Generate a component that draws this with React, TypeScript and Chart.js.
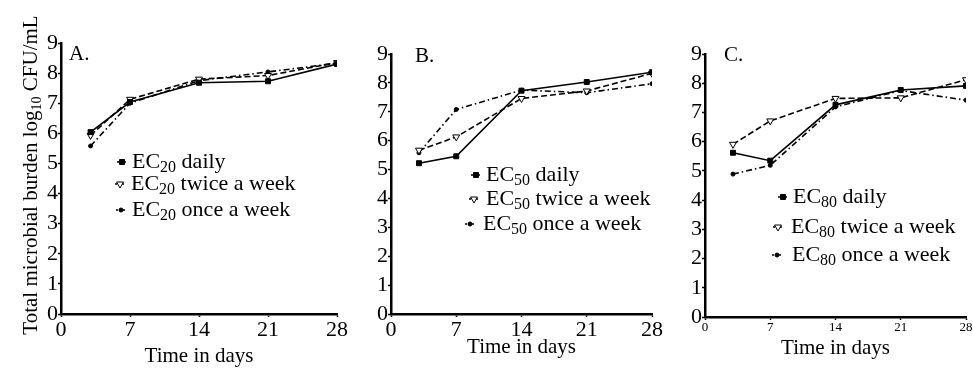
import React, { useEffect, useRef } from 'react';
import { Chart, registerables } from 'chart.js';
Chart.register(...registerables);

// ---------- data ----------
const DAYS = [3, 7, 14, 21, 28];
const X_TICKS = [0, 7, 14, 21, 28];
const Y_TICKS = [0, 1, 2, 3, 4, 5, 6, 7, 8, 9];

const A_DAILY = [6.04, 7.04, 7.68, 7.73, 8.3];
const A_TWICE = [5.93, 7.13, 7.8, 7.92, 8.35];
const A_ONCE = [5.58, 7.0, 7.75, 8.04, 8.33];

const B_DAILY = [5.22, 5.46, 7.73, 8.03, 8.37];
const B_TWICE = [5.67, 6.13, 7.46, 7.72, 8.33];
const B_ONCE = [5.58, 7.08, 7.75, 7.66, 7.97];

const C_DAILY = [5.62, 5.35, 7.26, 7.77, 7.91];
const C_TWICE = [5.91, 6.71, 7.48, 7.5, 8.12];
const C_ONCE = [4.89, 5.19, 7.19, 7.75, 7.42];

const PANEL_LABELS = ['A.', 'B.', 'C.'];
const EC_LEVELS = ['20', '50', '80'];
const REGIMENS = ['daily', 'twice a week', 'once a week'];
const X_TITLE = 'Time in days';
const Y_TITLE_PARTS = ['Total microbial burden log', '10', ' CFU/mL'];

const SERIES = [
  [A_DAILY, A_TWICE, A_ONCE],
  [B_DAILY, B_TWICE, B_ONCE],
  [C_DAILY, C_TWICE, C_ONCE],
];

// ---------- styles / layout ----------
const FONT = '"Liberation Serif", "Times New Roman", serif';
const H = 369;

const STYLES = [
  { dash: [] as number[], shape: 'rect', radius: 3.5, rotation: 0, fill: '#000' },
  { dash: [6, 3], shape: 'triangle', radius: 4, rotation: 180, fill: '#fff' },
  { dash: [6, 3, 1.5, 3], shape: 'circle', radius: 2, rotation: 0, fill: '#000' },
];

const PANELS = [
  {
    canvasLeft: 0, canvasWidth: 352, left: 61, right: 337, top: 43, bottom: 314,
    xTickSize: 22, xTitlePad: 0, label: { x: 69, y: 54 }, yTitle: true,
    legend: [
      { mx: 122, tx: 132, y: 162 },
      { mx: 120, tx: 131, y: 184 },
      { mx: 121, tx: 132, y: 210 },
    ],
  },
  {
    canvasLeft: 340, canvasWidth: 326, left: 391, right: 652, top: 54, bottom: 314,
    xTickSize: 22, xTitlePad: 9, label: { x: 415, y: 56 }, yTitle: false,
    legend: [
      { mx: 476, tx: 486, y: 175 },
      { mx: 474, tx: 486, y: 199 },
      { mx: 470, tx: 483, y: 224 },
    ],
  },
  {
    canvasLeft: 660, canvasWidth: 313, left: 705, right: 966, top: 54, bottom: 317,
    xTickSize: 13, xTitlePad: 8, label: { x: 724, y: 55 }, yTitle: false,
    legend: [
      { mx: 783, tx: 793, y: 197 },
      { mx: 778, tx: 791, y: 227 },
      { mx: 777, tx: 792, y: 255 },
    ],
  },
];

function drawMarker(ctx: CanvasRenderingContext2D, st: any, x: number, y: number) {
  ctx.save();
  ctx.setLineDash([]);
  ctx.lineWidth = 1;
  ctx.strokeStyle = '#000';
  ctx.fillStyle = st.fill;
  ctx.beginPath();
  if (st.shape === 'rect') {
    const s = st.radius * Math.SQRT1_2;
    ctx.rect(x - s, y - s, 2 * s, 2 * s);
  } else if (st.shape === 'triangle') {
    const r = st.radius;
    let a = (st.rotation * Math.PI) / 180;
    ctx.moveTo(x + Math.sin(a) * r, y - Math.cos(a) * r);
    a += (2 * Math.PI) / 3;
    ctx.lineTo(x + Math.sin(a) * r, y - Math.cos(a) * r);
    a += (2 * Math.PI) / 3;
    ctx.lineTo(x + Math.sin(a) * r, y - Math.cos(a) * r);
    ctx.closePath();
  } else {
    ctx.arc(x, y, st.radius, 0, Math.PI * 2);
  }
  ctx.fill();
  ctx.stroke();
  ctx.restore();
}

function makeOverlay(pi: number) {
  const p = PANELS[pi];
  return {
    id: 'overlay' + pi,
    afterDraw(chart: any) {
      const ctx: CanvasRenderingContext2D = chart.ctx;
      const ox = p.canvasLeft;
      ctx.save();
      ctx.fillStyle = '#000';
      ctx.textBaseline = 'middle';
      ctx.textAlign = 'left';
      // panel label
      ctx.font = `21px ${FONT}`;
      ctx.fillText(PANEL_LABELS[pi], p.label.x - ox, p.label.y);
      // legend
      p.legend.forEach((row, i) => {
        const st = STYLES[i];
        ctx.save();
        ctx.strokeStyle = '#000';
        ctx.lineWidth = 1.5;
        ctx.setLineDash(st.dash.length ? [2, 1.5] : []);
        ctx.beginPath();
        ctx.moveTo(row.mx - ox - 5, row.y);
        ctx.lineTo(row.mx - ox + 4, row.y);
        ctx.stroke();
        ctx.restore();
        drawMarker(ctx, st, row.mx - ox, row.y);
        let x = row.tx - ox;
        ctx.font = `22px ${FONT}`;
        ctx.fillText('EC', x, row.y);
        x += ctx.measureText('EC').width;
        ctx.font = `16px ${FONT}`;
        ctx.fillText(EC_LEVELS[pi], x, row.y + 6);
        x += ctx.measureText(EC_LEVELS[pi]).width;
        ctx.font = `22px ${FONT}`;
        ctx.fillText(' ' + REGIMENS[i], x, row.y);
      });
      // y title
      if (p.yTitle) {
        ctx.font = `21px ${FONT}`;
        const w0 = ctx.measureText(Y_TITLE_PARTS[0]).width;
        const w2 = ctx.measureText(Y_TITLE_PARTS[2]).width;
        ctx.font = `14px ${FONT}`;
        const w1 = ctx.measureText(Y_TITLE_PARTS[1]).width;
        const total = w0 + w1 + w2;
        const cy = 175;
        ctx.translate(37, cy + total / 2);
        ctx.rotate(-Math.PI / 2);
        ctx.textBaseline = 'alphabetic';
        ctx.font = `21px ${FONT}`;
        ctx.fillText(Y_TITLE_PARTS[0], 0, 0);
        ctx.font = `14px ${FONT}`;
        ctx.fillText(Y_TITLE_PARTS[1], w0, 4);
        ctx.font = `21px ${FONT}`;
        ctx.fillText(Y_TITLE_PARTS[2], w0 + w1, 0);
      }
      ctx.restore();
    },
  };
}

function buildConfig(pi: number): any {
  const p = PANELS[pi];
  const datasets = SERIES[pi].map((vals, i) => {
    const st = STYLES[i];
    return {
      label: REGIMENS[i],
      data: DAYS.map((d, k) => ({ x: d, y: vals[k] })),
      borderColor: '#000',
      borderWidth: 1.6,
      borderDash: st.dash,
      backgroundColor: st.fill,
      pointStyle: st.shape,
      pointRadius: st.radius,
      pointRotation: st.rotation,
      pointBorderWidth: 1,
      pointBorderColor: '#000',
      pointBackgroundColor: st.fill,
      tension: 0,
      fill: false,
    };
  });
  const tickFont = (size: number) => ({ family: FONT, size, lineHeight: 1.2 });
  return {
    type: 'line',
    data: { datasets },
    options: {
      responsive: false,
      animation: false,
      events: [],
      layout: {
        autoPadding: false,
        padding: { left: 0, right: p.canvasWidth - (p.right - p.canvasLeft), top: p.top, bottom: 0 },
      },
      plugins: { legend: { display: false }, tooltip: { enabled: false }, title: { display: false } },
      scales: {
        x: {
          type: 'linear',
          min: 0,
          max: 28,
          afterBuildTicks: (s: any) => { s.ticks = X_TICKS.map((v) => ({ value: v })); },
          afterFit: (s: any) => { s.height = H - p.bottom; },
          grid: { drawOnChartArea: false, drawTicks: true, tickLength: 3, color: '#000', tickWidth: 1.5 },
          border: { display: true, color: '#000', width: 2.5 },
          ticks: { color: '#000', font: tickFont(p.xTickSize), padding: 0, maxRotation: 0, autoSkip: false },
          title: { display: true, text: X_TITLE, color: '#000', font: { family: FONT, size: 21, lineHeight: 1.2 }, padding: { top: 0, bottom: p.xTitlePad } },
        },
        y: {
          type: 'linear',
          min: 0,
          max: 9,
          afterBuildTicks: (s: any) => { s.ticks = Y_TICKS.map((v) => ({ value: v })); },
          afterFit: (s: any) => { s.width = p.left - p.canvasLeft; },
          grid: { drawOnChartArea: false, drawTicks: true, tickLength: 3, color: '#000', tickWidth: 1.5 },
          border: { display: true, color: '#000', width: 2.5 },
          ticks: { color: '#000', font: tickFont(22), padding: 0, autoSkip: false },
        },
      },
    },
    plugins: [makeOverlay(pi)],
  };
}

export default function App() {
  const refs = [useRef<HTMLCanvasElement>(null), useRef<HTMLCanvasElement>(null), useRef<HTMLCanvasElement>(null)];
  useEffect(() => {
    const charts = refs.map((r, i) => new Chart(r.current as HTMLCanvasElement, buildConfig(i)));
    return () => charts.forEach((c) => c.destroy());
  }, []);
  return (
    <div style={{ position: 'absolute', left: 0, top: 0, width: 973, height: H, background: '#fff', overflow: 'hidden' }}>
      {PANELS.map((p, i) => (
        <canvas
          key={i}
          ref={refs[i]}
          width={p.canvasWidth}
          height={H}
          style={{ position: 'absolute', left: p.canvasLeft, top: 0, width: p.canvasWidth, height: H }}
        />
      ))}
    </div>
  );
}
